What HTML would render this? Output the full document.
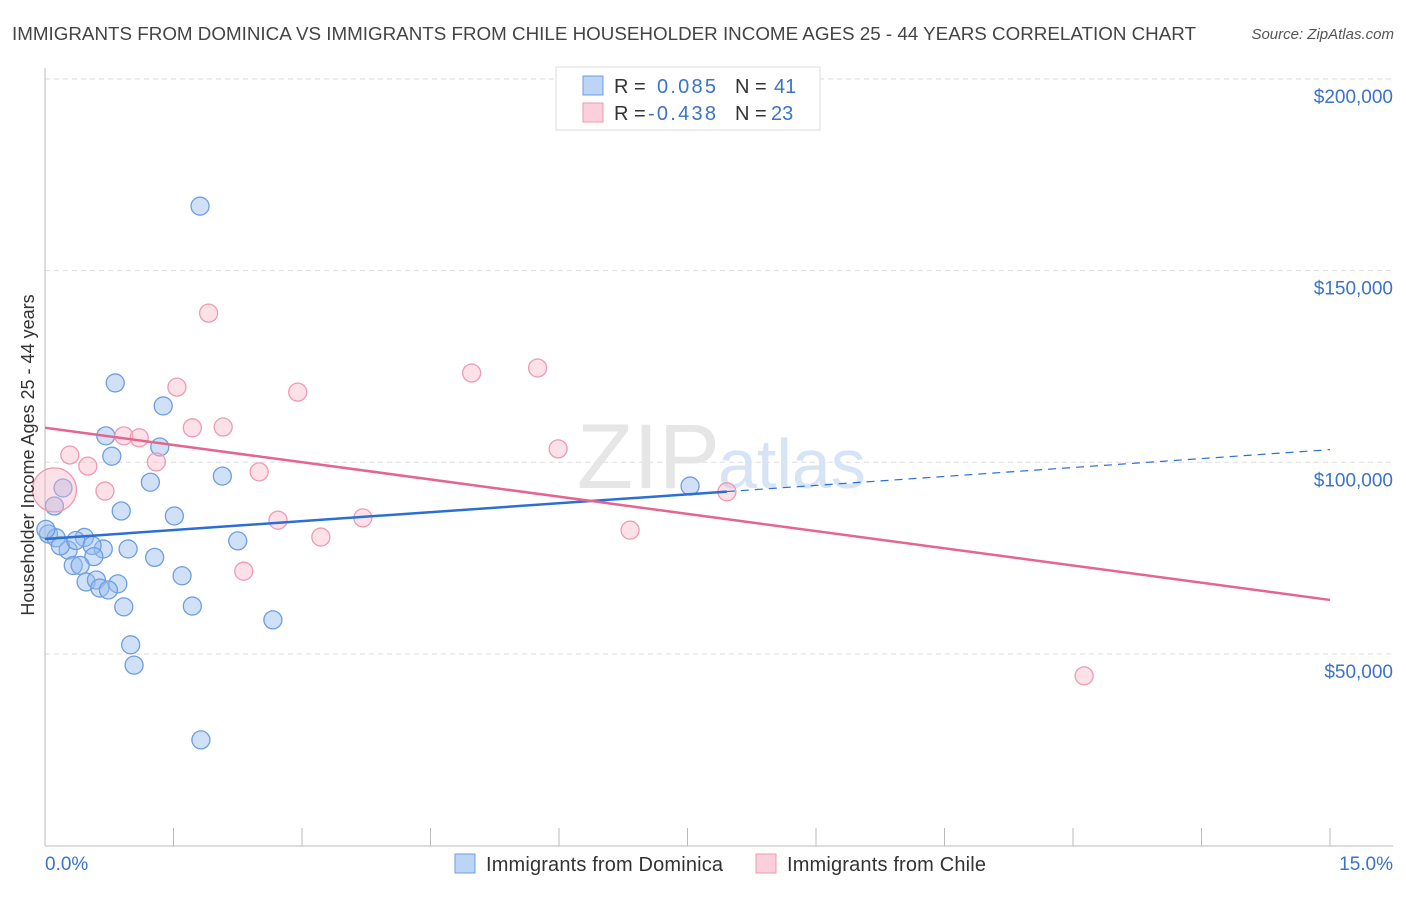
<!DOCTYPE html>
<html><head><meta charset="utf-8"><style>
body{margin:0;background:#fff;font-family:"Liberation Sans",sans-serif;}
svg text{font-family:"Liberation Sans",sans-serif;}
</style></head><body>
<svg width="1406" height="892">
<text x="12" y="40" font-size="18" fill="#444" textLength="1184" lengthAdjust="spacingAndGlyphs">IMMIGRANTS FROM DOMINICA VS IMMIGRANTS FROM CHILE HOUSEHOLDER INCOME AGES 25 - 44 YEARS CORRELATION CHART</text>
<text x="1394" y="39" font-size="15" fill="#555" font-style="italic" text-anchor="end">Source: ZipAtlas.com</text>
<g id="grid"></g>
<text x="720" y="488" font-size="92" fill="#e6e6e6" text-anchor="end" font-family="Liberation Serif">ZIP</text>
<text x="718" y="488" font-size="70" fill="#d6e4f5">atlas</text>
<g id="marks"></g>
<text transform="translate(34,455) rotate(-90)" font-size="18" fill="#333" text-anchor="middle">Householder Income Ages 25 - 44 years</text>
<text x="45" y="870" font-size="19" fill="#3a73c8">0.0%</text>
<text x="1393" y="870" font-size="19" fill="#3a73c8" text-anchor="end">15.0%</text>
<g>
<rect x="556" y="67" width="264" height="63" fill="#fff" stroke="#ddd"/>
<rect x="583" y="76" width="20" height="19" fill="#bcd4f6" stroke="#6d9ee0"/>
<rect x="583" y="103" width="20" height="19" fill="#fbd0dc" stroke="#ee9ab2"/>
<text x="614" y="93" font-size="20" fill="#333">R =</text>
<text x="657" y="93" font-size="20" fill="#3a73c8" textLength="59">0.085</text>
<text x="735" y="93" font-size="20" fill="#333">N =</text>
<text x="774" y="93" font-size="20" fill="#3a73c8">41</text>
<text x="614" y="120" font-size="20" fill="#333">R =</text>
<text x="648" y="120" font-size="20" fill="#3a73c8" textLength="68">-0.438</text>
<text x="735" y="120" font-size="20" fill="#333">N =</text>
<text x="771" y="120" font-size="20" fill="#3a73c8">23</text>
</g>
<g>
<rect x="455" y="854" width="20" height="19" fill="#bcd4f6" stroke="#6d9ee0"/>
<text x="486" y="871" font-size="20" fill="#333" textLength="237">Immigrants from Dominica</text>
<rect x="756" y="854" width="20" height="19" fill="#fbd0dc" stroke="#ee9ab2"/>
<text x="787" y="871" font-size="20" fill="#333" textLength="199">Immigrants from Chile</text>
</g>
</svg>
<script>
const yTicks=[50000,100000,150000,200000];
const yTickLabels=["$50,000","$100,000","$150,000","$200,000"];
const xTicks=[0,1.5,3,4.5,6,7.5,9,10.5,12,13.5,15];
const blueX=[1.81,0.82,1.38,0.71,1.34,0.78,1.23,0.21,2.07,0.11,0.89,1.51,0.04,0.13,2.25,0.97,0.68,0.27,0.18,0.46,0.36,0.55,0.57,1.28,0.33,0.41,1.60,0.48,0.60,0.85,0.64,0.74,0.92,1.72,2.66,1.00,1.04,1.82,7.53,0.01];
const blueY=[166800,120700,114700,106900,104000,101600,94800,93300,96400,88600,87300,86000,81300,80300,79500,77400,77400,77100,78200,80400,79600,78300,75400,75200,73100,73100,70400,68800,69300,68300,67200,66700,62300,62500,58900,52400,47100,27600,93800,82500];
const pinkX=[0.11,1.91,1.54,2.95,4.98,5.75,1.72,2.08,0.92,1.10,0.29,0.50,1.30,2.50,5.99,0.70,7.96,2.72,3.71,3.22,6.83,2.32,12.13];
const pinkY=[92800,138900,119600,118300,123300,124600,109000,109200,106900,106400,101900,99000,100100,97500,103500,92500,92300,84900,85500,80500,82300,71600,44300];
const pinkR=[22,9,9,9,9,9,9,9,9,9,9,9,9,9,9,9,9,9,9,9,9,9,9];
const blueTrend=[80000,103300];
const pinkTrend=[109000,64100];
const blueSolidEnd=7.96;
const NS="http://www.w3.org/2000/svg";
const X=v=>45+v/15*1285;
const Y=v=>845.7-v/50000*191.7;
function mk(t,a,p){const e=document.createElementNS(NS,t);for(const k in a)e.setAttribute(k,a[k]);p.appendChild(e);return e;}
const g=document.getElementById('grid'),m=document.getElementById('marks');
yTicks.forEach((v,i)=>{
 const l=mk('line',{x1:45,x2:1393,y1:Y(v),y2:Y(v),stroke:'#ddd','stroke-dasharray':'5,4'},g);
 
 
 const t=mk('text',{x:1393,y:Y(v)+24,'font-size':19,fill:'#3a73c8','text-anchor':'end'},g);
 t.textContent=yTickLabels[i];
 
 
});
mk('line',{x1:45,x2:1393,y1:79,y2:79,stroke:'#ddd','stroke-dasharray':'5,4'},g);
const ax=mk('line',{x1:45,x2:45,y1:68,y2:846,stroke:'#bbb'},g);


const bx=mk('line',{x1:45,x2:1393,y1:846,y2:846,stroke:'#bbb'},g);


xTicks.forEach(v=>{
 const l=mk('line',{x1:X(v),x2:X(v),y1:828,y2:846,stroke:'#bbb'},g);
 
 
});
blueX.forEach((x,i)=>{
 const c=mk('circle',{cx:X(x),cy:Y(blueY[i]),r:9,fill:'rgba(150,188,238,0.45)',stroke:'#6d9ee0','stroke-width':1.3},m);
 
 
});
pinkX.forEach((x,i)=>{
 const c=mk('circle',{cx:X(x),cy:Y(pinkY[i]),r:pinkR[i],fill:'rgba(248,180,200,0.4)',stroke:'#ee9ab2','stroke-width':1.3},m);
 
 
});
const bAt=x=>blueTrend[0]+(blueTrend[1]-blueTrend[0])*x/15;
const bl=mk('line',{x1:X(0),y1:Y(bAt(0)),x2:X(blueSolidEnd),y2:Y(bAt(blueSolidEnd)),stroke:'#2b6fd6','stroke-width':2.5},m);


const bd=mk('line',{x1:X(blueSolidEnd),y1:Y(bAt(blueSolidEnd)),x2:X(15),y2:Y(bAt(15)),stroke:'#2b6fd6','stroke-width':1.2,'stroke-dasharray':'8,6'},m);


const pl=mk('line',{x1:X(0),y1:Y(pinkTrend[0]),x2:X(15),y2:Y(pinkTrend[1]),stroke:'#e5658f','stroke-width':2.5},m);


</script>
</body></html>
